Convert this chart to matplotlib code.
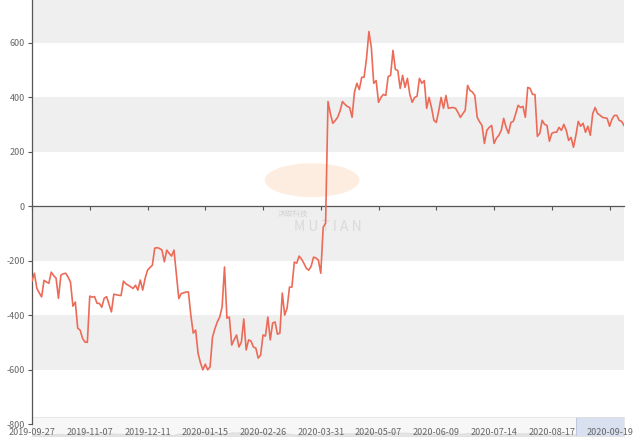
import matplotlib
matplotlib.use("Agg")
import matplotlib.pyplot as plt
from matplotlib.patches import Ellipse, Rectangle
import numpy as np

plt.rcParams['font.family'] = ['Noto Sans CJK SC', 'DejaVu Sans']

# ------------------------------------------------------------
# data (one value per trading day)
# ------------------------------------------------------------
values = [
    -275, -246, -301, -318, -333, -272, -278, -283, -242, -255,
    -264, -338, -253, -248, -246, -260, -279, -367, -352, -448,
    -455, -485, -499, -500, -330, -334, -332, -356, -357, -371,
    -338, -332, -360, -388, -323, -325, -327, -328, -275, -285,
    -290, -296, -302, -290, -308, -271, -308, -265, -235, -225,
    -217, -154, -152, -155, -161, -204, -161, -173, -183, -161,
    -250, -339, -321, -318, -315, -315, -400, -466, -455, -540,
    -575, -601, -580, -601, -590, -481, -450, -425, -407, -370,
    -223, -411, -407, -510, -490, -473, -517, -499, -414, -528,
    -491, -495, -517, -521, -558, -547, -473, -477, -407, -491,
    -429, -425, -470, -466, -319, -400, -374, -297, -297, -205,
    -209, -183, -194, -210, -228, -235, -220, -187, -190, -198,
    -246, -77, -62, 385, 340, 305, 315, 327, 350, 385,
    375, 367, 363, 327, 420, 452, 429, 474, 474, 543,
    642, 584, 452, 462, 382, 400, 411, 407, 477, 481,
    573, 503, 499, 433, 481, 437, 470, 411, 382, 400,
    404, 470, 452, 462, 360, 400, 363, 316, 308, 350,
    400, 360, 407, 360, 362, 363, 360, 345, 327, 340,
    352, 444, 426, 420, 407, 327, 310, 297, 231, 279,
    290, 297, 231, 250, 261, 279, 323, 290, 268, 308,
    312, 340, 371, 363, 367, 327, 437, 433, 411, 411,
    257, 268, 316, 301, 297, 239, 268, 272, 272, 290,
    279, 301, 279, 242, 253, 217, 260, 312, 294, 305,
    272, 294, 261, 340, 363, 341, 335, 327, 325, 323,
    294, 320, 334, 334, 316, 312, 297,
]

date_labels = [
    "2019-09-27", "2019-11-07", "2019-12-11", "2020-01-15", "2020-02-26",
    "2020-03-31", "2020-05-07", "2020-06-09", "2020-07-14", "2020-08-17",
    "2020-09-19",
]
label_step = 24
y_ticks = [-800, -600, -400, -200, 0, 200, 400, 600]
gray_bands = [(600, 800), (200, 400), (-200, 0), (-600, -400)]

x = np.arange(len(values))
line_color = "#ec6b58"
band_color = "#efefef"
axis_color = "#555555"
text_color = "#666666"

fig = plt.figure(figsize=(6.4, 4.42), dpi=100)

# main plot area
ax = fig.add_axes([32 / 640, 18 / 442, 592 / 640, 424 / 442])
ax.set_zorder(2)
ax.set_facecolor("none")

# data-zoom slider strip under the axis
sl = fig.add_axes([32 / 640, 6 / 442, 592 / 640, 19 / 442])
sl.set_zorder(1)
sl.set_facecolor("#f7f7f7")
shade = np.abs(np.array(values, dtype=float))
sl.fill_between(x, 0, shade, color="#e4e4e4", lw=0.6, edgecolor="#dadada")
sl.set_xlim(0, len(values) - 1)
sl.set_ylim(0, 2600)
sl.add_patch(Rectangle((226, 0), len(values) - 227, 2600,
                       facecolor="#d9e0f0", edgecolor="#b8c3dc", lw=0.6))
sl.set_xticks([])
sl.set_yticks([])
for s in sl.spines.values():
    s.set_color("#e4e4e4")
    s.set_linewidth(0.6)

# alternating background bands
for lo, hi in gray_bands:
    ax.axhspan(lo, hi, color=band_color, lw=0, zorder=0)

ax.plot(x, values, color=line_color, lw=1.2, zorder=3)

ax.set_xlim(0, len(values) - 1)
ax.set_ylim(-800, 758)

ax.set_yticks(y_ticks)
ax.set_yticklabels([str(v) for v in y_ticks], fontsize=6.5, color=text_color)
ax.tick_params(axis="y", length=3, width=0.8, color=axis_color, pad=2)

# x axis line sits on zero, labels stay at the bottom
ax.spines["bottom"].set_position(("data", 0))
ax.spines["bottom"].set_color(axis_color)
ax.spines["bottom"].set_linewidth(0.9)
ax.spines["left"].set_color(axis_color)
ax.spines["left"].set_linewidth(0.9)
ax.spines["top"].set_visible(False)
ax.spines["right"].set_visible(False)

tick_pos = [i * label_step for i in range(len(date_labels))]
ax.set_xticks(tick_pos)
ax.set_xticklabels([])
ax.tick_params(axis="x", length=3, width=0.8, color=axis_color)

sec = ax.secondary_xaxis(0)
sec.set_xticks(tick_pos)
sec.set_xticklabels(date_labels, fontsize=6.5, color=text_color)
sec.tick_params(axis="x", length=0, pad=3)
sec.spines["bottom"].set_visible(False)

# faint watermark
ax.add_patch(Ellipse((0.473, 0.575), 0.16, 0.08, transform=ax.transAxes,
                     facecolor="#fbdcc2", alpha=0.5, lw=0, zorder=1))
ax.text(0.44, 0.495, "沐甜科技", transform=ax.transAxes, fontsize=5.5,
        color="#d4d4d4", ha="center", va="center", zorder=1)
ax.text(0.50, 0.465, "M U T I A N", transform=ax.transAxes, fontsize=10,
        color="#dadada", ha="center", va="center", zorder=1)

fig.savefig("out.png", dpi=100)
